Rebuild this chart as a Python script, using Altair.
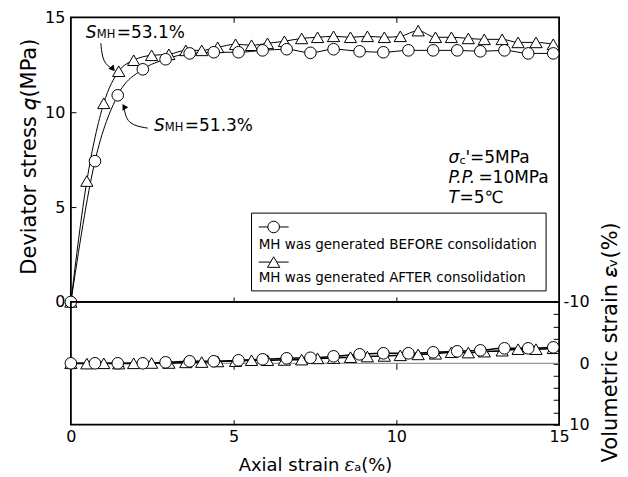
import altair as alt
import pandas as pd

FONT = "DejaVu Sans"
W, H_TOP, H_BOT = 489, 285, 123

# ---- test series: axial strain (%), deviator stress q (MPa), volumetric strain (%)
strain_before = [0.0, 0.74, 1.44, 2.21, 2.91, 3.65, 4.39, 5.15, 5.89, 6.63, 7.36,
                 8.07, 8.87, 9.60, 10.37, 11.13, 11.87, 12.58, 13.32, 14.05, 14.82]
q_before = [0.0, 7.42, 10.89, 12.26, 12.79, 13.10, 13.16, 13.16, 13.26, 13.32, 13.13,
            13.32, 13.21, 13.16, 13.26, 13.26, 13.26, 13.21, 13.26, 13.10, 13.10]
ev_before = [0.0, 0.0, 0.0, 0.0, -0.16, -0.33, -0.33, -0.49, -0.65, -0.81, -0.90,
             -1.14, -1.46, -1.63, -1.63, -1.79, -1.95, -2.11, -2.44, -2.44, -2.60]

strain_after = [0.0, 0.49, 1.01, 1.47, 1.93, 2.48, 3.01, 3.53, 4.02, 4.51, 5.06, 5.55,
                6.04, 6.56, 7.09, 7.58, 8.07, 8.59, 9.11, 9.63, 10.12, 10.67, 11.20,
                11.69, 12.21, 12.70, 13.25, 13.74, 14.29, 14.82]
q_after = [0.0, 6.37, 10.47, 12.16, 12.74, 13.00, 13.05, 13.26, 13.26, 13.42, 13.58,
           13.53, 13.63, 13.74, 13.89, 13.95, 14.00, 13.95, 14.00, 13.95, 14.00, 14.30,
           13.95, 13.95, 13.89, 13.84, 13.84, 13.68, 13.68, 13.58]
ev_after = [0.0, 0.05, 0.0, 0.05, 0.0, -0.05, -0.05, -0.15, -0.2, -0.3, -0.35, -0.5,
            -0.5, -0.55, -0.6, -0.8, -0.85, -1.0, -1.1, -1.2, -1.3, -1.45, -1.55,
            -1.8, -1.75, -1.9, -2.05, -2.3, -2.3, -2.45]

# ---- annotation text and anchors (axis units)
sat_x = [0.46, 2.55]
sat_q = [14.16, 9.26]
sat_values = ["=53.1%", "=51.3%"]
arrow1_x = [0.92, 0.98, 1.29]
arrow1_q = [13.63, 12.60, 12.28]
arrow2_x = [2.36, 1.72, 1.63]
arrow2_q = [9.16, 9.35, 10.30]

cond_x = 11.6
cond_q = [7.58, 6.53, 5.47]
cond_italic = ["σ", "P.P.", "T"]
cond_rest = ["'=5MPa", "=10MPa", "=5℃"]

legend_box_x = [5.55, 14.6]
legend_box_q = [4.68, 0.58]
legend_key_x = [5.77, 6.69]
legend_key_q = [3.95, 2.10]
legend_text_q = [3.00, 1.26]
legend_labels = ["MH was generated BEFORE consolidation",
                 "MH was generated AFTER consolidation"]

before = pd.DataFrame({"strain": strain_before, "q": q_before, "ev": ev_before})
after = pd.DataFrame({"strain": strain_after, "q": q_after, "ev": ev_after})

x_scale = alt.Scale(domain=[0, 15], nice=False, zero=False)
q_scale = alt.Scale(domain=[0, 15], nice=False)
ev_scale = alt.Scale(domain=[-10, 10], reverse=True, nice=False)


def tick_axis(orient, offset, values, size=5):
    return alt.Axis(orient=orient, offset=offset, values=values, labels=False,
                    title=None, domain=False, ticks=True, tickSize=size,
                    tickColor="black", tickWidth=1, grid=False)


def X(field="x:Q"):
    return alt.X(field, scale=x_scale, axis=None)


def Q(field="q:Q"):
    return alt.Y(field, scale=q_scale, axis=None)


def EV(field="ev:Q"):
    return alt.Y(field, scale=ev_scale, axis=None)


line_kw = dict(color="black", strokeWidth=1, interpolate="monotone")
circle_kw = dict(shape="circle", size=135, filled=True, fill="white",
                 stroke="black", strokeWidth=1, opacity=1)
tri_kw = dict(shape="triangle-up", size=150, filled=True, fill="white",
              stroke="black", strokeWidth=1, opacity=1)

# ---------------- upper panel: deviator stress ----------------
top_b_line = alt.Chart(before).mark_line(**line_kw).encode(
    x=alt.X("strain:Q", scale=x_scale, axis=tick_axis("top", -H_TOP, [5, 10])),
    y=alt.Y("q:Q", scale=q_scale, axis=alt.Axis(
        orient="left", values=[0, 5, 10, 15], labelExpr="'' + datum.value",
        title="Deviator stress 𝑞(MPa)", domain=False, ticks=False,
        labelPadding=6, titleX=-41, titleY=139, titleAngle=270, titleFontSize=21,
        titleAlign="center", titleBaseline="middle", grid=False)),
)
top_a_line = alt.Chart(after).mark_line(**line_kw).encode(
    x=alt.X("strain:Q", scale=x_scale, axis=tick_axis("bottom", -H_TOP, [5, 10])),
    y=alt.Y("q:Q", scale=q_scale, axis=tick_axis("right", -W, [5, 10])),
)
top_circles = alt.Chart(before).mark_point(**circle_kw).encode(x=X("strain:Q"), y=Q())
top_tris = alt.Chart(after).mark_point(**tri_kw).encode(x=X("strain:Q"), y=Q())

sat_df = pd.DataFrame({"x": sat_x, "q": sat_q, "v": sat_values})
sat_s = alt.Chart(sat_df).mark_text(text="S", fontStyle="italic", fontSize=17,
                                    align="left", baseline="middle", font=FONT
                                    ).encode(x=X(), y=Q())
sat_mh = alt.Chart(sat_df).mark_text(text="MH", fontSize=11.5, dx=11, dy=2,
                                     align="left", baseline="middle", font=FONT
                                     ).encode(x=X(), y=Q())
sat_val = alt.Chart(sat_df).mark_text(fontSize=17, dx=31, align="left",
                                      baseline="middle", font=FONT
                                      ).encode(x=X(), y=Q(), text="v:N")

arrows = []
for ax, aq, ang in [(arrow1_x, arrow1_q, 141), (arrow2_x, arrow2_q, 330)]:
    adf = pd.DataFrame({"x": ax, "q": aq, "i": range(len(ax))})
    arrows.append(alt.Chart(adf).mark_line(color="black", strokeWidth=1,
                                           interpolate="basis").encode(
        x=X(), y=Q(), order="i:Q"))
    arrows.append(alt.Chart(adf.tail(1)).mark_point(
        shape="triangle-up", size=45, filled=True, color="black", opacity=1,
        angle=ang).encode(x=X(), y=Q()))

cond_layers = []
cond_dx = [17, 30, 11]
for i in range(3):
    cdf = pd.DataFrame({"x": [cond_x], "q": [cond_q[i]],
                        "a": [cond_italic[i]], "b": [cond_rest[i]]})
    cond_layers.append(alt.Chart(cdf).mark_text(
        fontStyle="italic", fontSize=17, align="left", baseline="middle",
        font=FONT).encode(x=X(), y=Q(), text="a:N"))
    cond_layers.append(alt.Chart(cdf).mark_text(
        fontSize=17, align="left", baseline="middle", dx=cond_dx[i],
        font=FONT).encode(x=X(), y=Q(), text="b:N"))
    if i == 0:
        cond_layers.append(alt.Chart(cdf).mark_text(
            text="c", fontSize=11, align="left", baseline="middle", dx=11, dy=3,
            font=FONT).encode(x=X(), y=Q()))

box_df = pd.DataFrame({"x": [legend_box_x[0]], "x2": [legend_box_x[1]],
                       "q": [legend_box_q[0]], "q2": [legend_box_q[1]]})
legend_box = alt.Chart(box_df).mark_rect(fill="white", stroke="black",
                                         strokeWidth=1).encode(
    x=X(), x2="x2:Q", y=Q(), y2="q2:Q")
key_df = pd.DataFrame({"x": [legend_key_x[0]] * 2, "x2": [legend_key_x[1]] * 2,
                       "xm": [(legend_key_x[0] + legend_key_x[1]) / 2] * 2,
                       "q": legend_key_q, "tq": legend_text_q,
                       "label": legend_labels})
legend_lines = alt.Chart(key_df).mark_rule(color="black", strokeWidth=1).encode(
    x=X(), x2="x2:Q", y=Q())
legend_circle = alt.Chart(key_df.head(1)).mark_point(**circle_kw).encode(
    x=X("xm:Q"), y=Q())
legend_tri = alt.Chart(key_df.tail(1)).mark_point(**tri_kw).encode(
    x=X("xm:Q"), y=Q())
legend_text = alt.Chart(key_df).mark_text(fontSize=13.5, align="left",
                                          baseline="middle", font=FONT).encode(
    x=X(), y=Q("tq:Q"), text="label:N")

top = alt.layer(
    top_b_line, top_a_line, top_tris, top_circles,
    sat_s, sat_mh, sat_val, *arrows, *cond_layers,
    legend_box, legend_lines, legend_circle, legend_tri, legend_text,
).resolve_axis(x="independent", y="independent").properties(width=W, height=H_TOP)

# ---------------- lower panel: volumetric strain ----------------
zero_df = pd.DataFrame({"ev": [0.0]})
zero_line = alt.Chart(zero_df).mark_rule(color="#808080", strokeWidth=1).encode(y=EV())

bot_b_line = alt.Chart(before).mark_line(color="black", strokeWidth=1.5,
                                         interpolate="monotone").encode(
    x=alt.X("strain:Q", scale=x_scale, axis=alt.Axis(
        orient="bottom", values=[0, 5, 10, 15], labelExpr="'' + datum.value",
        title="Axial strain 𝜀ₐ(%)", domain=False, ticks=False, labelPadding=4,
        titleY=41, titleBaseline="middle", titleFontSize=18, grid=False)),
    y=alt.Y("ev:Q", scale=ev_scale, axis=alt.Axis(
        orient="right", values=[-10, 0, 10], labelExpr="'' + datum.value",
        title="Volumetric strain 𝜀ᵥ(%)", domain=False, ticks=False,
        labelAlign="right", labelPadding=30, titleAngle=270, titleX=51,
        titleY=40, titleAlign="center", titleBaseline="middle",
        titleFontSize=21, grid=False)),
)
bot_a_line = alt.Chart(after).mark_line(color="black", strokeWidth=1.5,
                                        interpolate="monotone").encode(
    x=alt.X("strain:Q", scale=x_scale, axis=tick_axis("top", -H_BOT, [5, 10])),
    y=alt.Y("ev:Q", scale=ev_scale,
            axis=tick_axis("left", -W, list(range(-10, 11, 2)), size=6)),
)
bot_tris = alt.Chart(after).mark_point(**tri_kw).encode(
    x=alt.X("strain:Q", scale=x_scale,
            axis=tick_axis("bottom", -H_BOT / 2, [5, 10], size=6)),
    y=EV())
bot_circles = alt.Chart(before).mark_point(**circle_kw).encode(x=X("strain:Q"), y=EV())

bottom = alt.layer(
    zero_line, bot_b_line, bot_a_line, bot_tris, bot_circles,
).resolve_axis(x="independent", y="independent").properties(width=W, height=H_BOT)

chart = alt.vconcat(top, bottom, spacing=0, bounds="flush").configure(
    font=FONT, padding={"left": 18, "top": 8, "right": 7, "bottom": 3},
).configure_view(stroke="black", strokeWidth=1.8).configure_axis(
    labelFont=FONT, titleFont=FONT, labelColor="black", titleColor="black",
    titleFontWeight="normal", labelFontSize=16, titleFontSize=18,
    labelFlush=False,
)

chart.save("out.html", embed_options={"renderer": "svg", "actions": False})
